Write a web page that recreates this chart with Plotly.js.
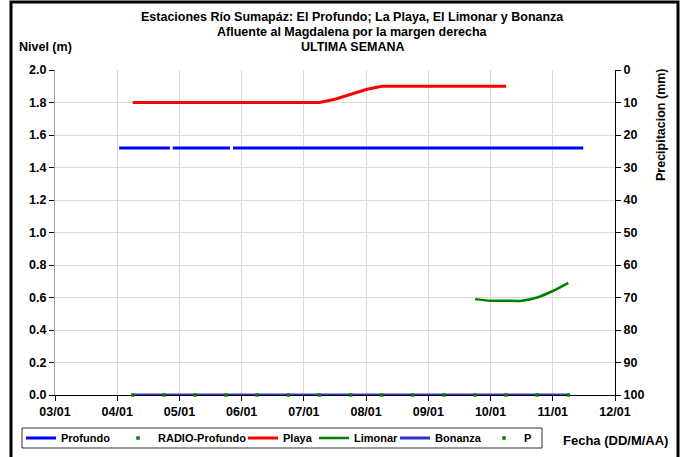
<!DOCTYPE html>
<html>
<head>
<meta charset="utf-8">
<script src="https://cdn.plot.ly/plotly-3.0.1.min.js"></script>
<style>html,body{margin:0;padding:0;background:#fff;}#chart{width:684px;height:457px;}</style>
</head>
<body>
<div id="chart"></div>
<script>
// Tick labels / axis settings
const xRange = ['2014-01-03', '2014-01-12'];
const precipRange = [100, 0];
const titleLines = ['Estaciones Río Sumapáz: El Profundo; La Playa, El Limonar y Bonanza', 'Afluente al Magdalena por la margen derecha', 'ULTIMA SEMANA'];

// Profundo (nivel, m) - gaps as null
const profundoX = ['2014-01-04 00:45','2014-01-04 20:20','2014-01-04 20:50','2014-01-04 21:25','2014-01-05 19:30','2014-01-05 20:00','2014-01-05 20:40','2014-01-07 00:00','2014-01-09 00:00','2014-01-11 11:45'];
const profundoY = [1.52, 1.52, null, 1.52, 1.52, null, 1.52, 1.52, 1.52, 1.52];

// RADIO-Profundo (dots at 0)
const radioX = ['2014-01-04 06:00','2014-01-04 18:00','2014-01-05 06:00','2014-01-05 18:00','2014-01-06 06:00','2014-01-06 18:00','2014-01-07 06:00','2014-01-07 18:00','2014-01-08 06:00','2014-01-08 18:00','2014-01-09 06:00','2014-01-09 18:00','2014-01-10 06:00','2014-01-10 18:00','2014-01-11 06:00'];
const radioY = [0,0,0,0,0,0,0,0,0,0,0,0,0,0,0];

// Playa
const playaX = ['2014-01-04 06:00','2014-01-05 06:00','2014-01-06 06:00','2014-01-07 06:00','2014-01-07 12:00','2014-01-07 18:00','2014-01-08 00:00','2014-01-08 06:00','2014-01-09 06:00','2014-01-10 06:00'];
const playaY = [1.80, 1.80, 1.80, 1.80, 1.82, 1.85, 1.88, 1.90, 1.90, 1.90];

// Limonar
const limonarX = ['2014-01-09 18:00','2014-01-10 00:00','2014-01-10 06:00','2014-01-10 12:00','2014-01-10 18:00','2014-01-11 00:00','2014-01-11 06:00'];
const limonarY = [0.59, 0.58, 0.58, 0.58, 0.60, 0.64, 0.69];

// Bonanza
const bonanzaX = ['2014-01-04 06:00','2014-01-06 06:00','2014-01-08 06:00','2014-01-10 06:00','2014-01-11 06:00'];
const bonanzaY = [0, 0, 0, 0, 0];

// P (precipitación, mm) - no data recorded
const pX = ['2014-01-04 06:00'];
const pY = [null];

const F = 'Liberation Sans, Arial, sans-serif';

const traces = [
  {x: profundoX, y: profundoY, name: 'Profundo', type: 'scatter', mode: 'lines', connectgaps: false,
   line: {color: '#0000FF', width: 3}, cliponaxis: false, legend: 'legend'},
  {x: playaX, y: playaY, name: 'Playa', type: 'scatter', mode: 'lines',
   line: {color: '#FF0000', width: 3}, cliponaxis: false, legend: 'legend3'},
  {x: limonarX, y: limonarY, name: 'Limonar', type: 'scatter', mode: 'lines',
   line: {color: '#008000', width: 2.5, shape: 'spline'}, cliponaxis: false, legend: 'legend4'},
  {x: bonanzaX, y: bonanzaY, name: 'Bonanza', type: 'scatter', mode: 'lines',
   line: {color: '#3333CC', width: 3}, cliponaxis: false, legend: 'legend5'},
  {x: radioX, y: radioY, name: 'RADIO-Profundo', type: 'scatter', mode: 'markers',
   marker: {color: '#008000', size: 3.5, symbol: 'square'}, cliponaxis: false, legend: 'legend2'},
  {x: pX, y: pY, name: 'P', type: 'scatter', mode: 'markers', yaxis: 'y2',
   marker: {color: '#008000', size: 3.5, symbol: 'square'}, cliponaxis: false, legend: 'legend6'}
];

const py = p => (395 - p) / 325;
const px = p => (p - 55) / 560;

const titleY = [17, 32, 47];
const annotations = titleLines.map((t, i) => ({
  text: '<b>' + t + '</b>', xref: 'paper', yref: 'paper', x: px(352), y: py(titleY[i]),
  xanchor: 'center', yanchor: 'middle', showarrow: false, font: {family: F, size: 12.5, color: '#000'}
}));
annotations.push(
  {text: '<b>Nivel (m)</b>', xref: 'paper', yref: 'paper', x: px(17), y: py(47),
   xanchor: 'left', yanchor: 'middle', showarrow: false, font: {family: F, size: 12.5, color: '#000'}},
  {text: '<b>Precipitacion (mm)</b>', xref: 'paper', yref: 'paper', x: px(661), y: py(125),
   xanchor: 'center', yanchor: 'middle', textangle: -90, showarrow: false, font: {family: F, size: 12.5, color: '#000'}},
  {text: '<b>Fecha (DD/M/AA)</b>', xref: 'paper', yref: 'paper', x: px(670), y: py(440),
   xanchor: 'right', yanchor: 'middle', showarrow: false, font: {family: F, size: 13, color: '#000'}}
);

// legend text start positions (px) for each legend
const legendTextX = {legend: 60, legend2: 152, legend3: 282, legend4: 353, legend5: 434, legend6: 518};
const legendOffset = {legend: 39, legend2: 34, legend3: 39, legend4: 39, legend5: 39, legend6: 34};
function mkLegend(key) {
  return {
    orientation: 'h', x: px(legendTextX[key] - legendOffset[key]), xanchor: 'left', y: py(438), yanchor: 'middle',
    bgcolor: 'rgba(0,0,0,0)', borderwidth: 0,
    font: {family: F, size: 11, color: '#000', weight: 'bold'},
    itemwidth: 30, tracegroupgap: 0
  };
}

const layout = {
  width: 684, height: 457,
  margin: {l: 55, r: 69, t: 70, b: 62, autoexpand: false},
  paper_bgcolor: '#fff', plot_bgcolor: '#fff',
  font: {family: F, color: '#000', size: 12},
  showlegend: true,
  xaxis: {
    type: 'date', range: xRange, dtick: 86400000, tick0: '2014-01-03',
    tickformat: '%d/%m', showgrid: true, gridcolor: '#D9D9D9', gridwidth: 1,
    showline: true, linecolor: '#000', linewidth: 1, ticks: 'outside', ticklen: 5, tickcolor: '#000',
    tickfont: {family: F, size: 12.5, color: '#000', weight: 'bold'},
    zeroline: false, layer: 'below traces', fixedrange: true, automargin: false
  },
  yaxis: {
    range: [0, 2], dtick: 0.2, tickformat: '.1f', showgrid: true, gridcolor: '#D9D9D9',
    showline: true, linecolor: '#A0A0A0', linewidth: 1, ticks: 'outside', ticklen: 5, tickcolor: '#000',
    tickfont: {family: F, size: 12.5, color: '#000', weight: 'bold'},
    zeroline: false, layer: 'below traces', fixedrange: true, automargin: false
  },
  yaxis2: {
    overlaying: 'y', side: 'right', range: precipRange, dtick: 10, showgrid: false,
    showline: true, linecolor: '#000', linewidth: 1, ticks: 'outside', ticklen: 5, tickcolor: '#000',
    tickfont: {family: F, size: 12.5, color: '#000', weight: 'bold'},
    zeroline: false, fixedrange: true, automargin: false
  },
  legend: mkLegend('legend'),
  legend2: mkLegend('legend2'),
  legend3: mkLegend('legend3'),
  legend4: mkLegend('legend4'),
  legend5: mkLegend('legend5'),
  legend6: mkLegend('legend6'),
  annotations: annotations,
  shapes: [
    {type: 'rect', xref: 'paper', yref: 'paper', x0: px(22), x1: px(542), y0: py(448), y1: py(428),
     line: {color: '#333', width: 1}, fillcolor: '#fff', layer: 'below'},
    {type: 'rect', xref: 'paper', yref: 'paper', x0: px(11), x1: px(678),
     y0: py(480), y1: py(2), line: {color: '#000', width: 3}, fillcolor: 'rgba(0,0,0,0)', layer: 'above'}
  ]
};

Plotly.newPlot('chart', traces, layout, {displayModeBar: false, staticPlot: true});
</script>
</body>
</html>
